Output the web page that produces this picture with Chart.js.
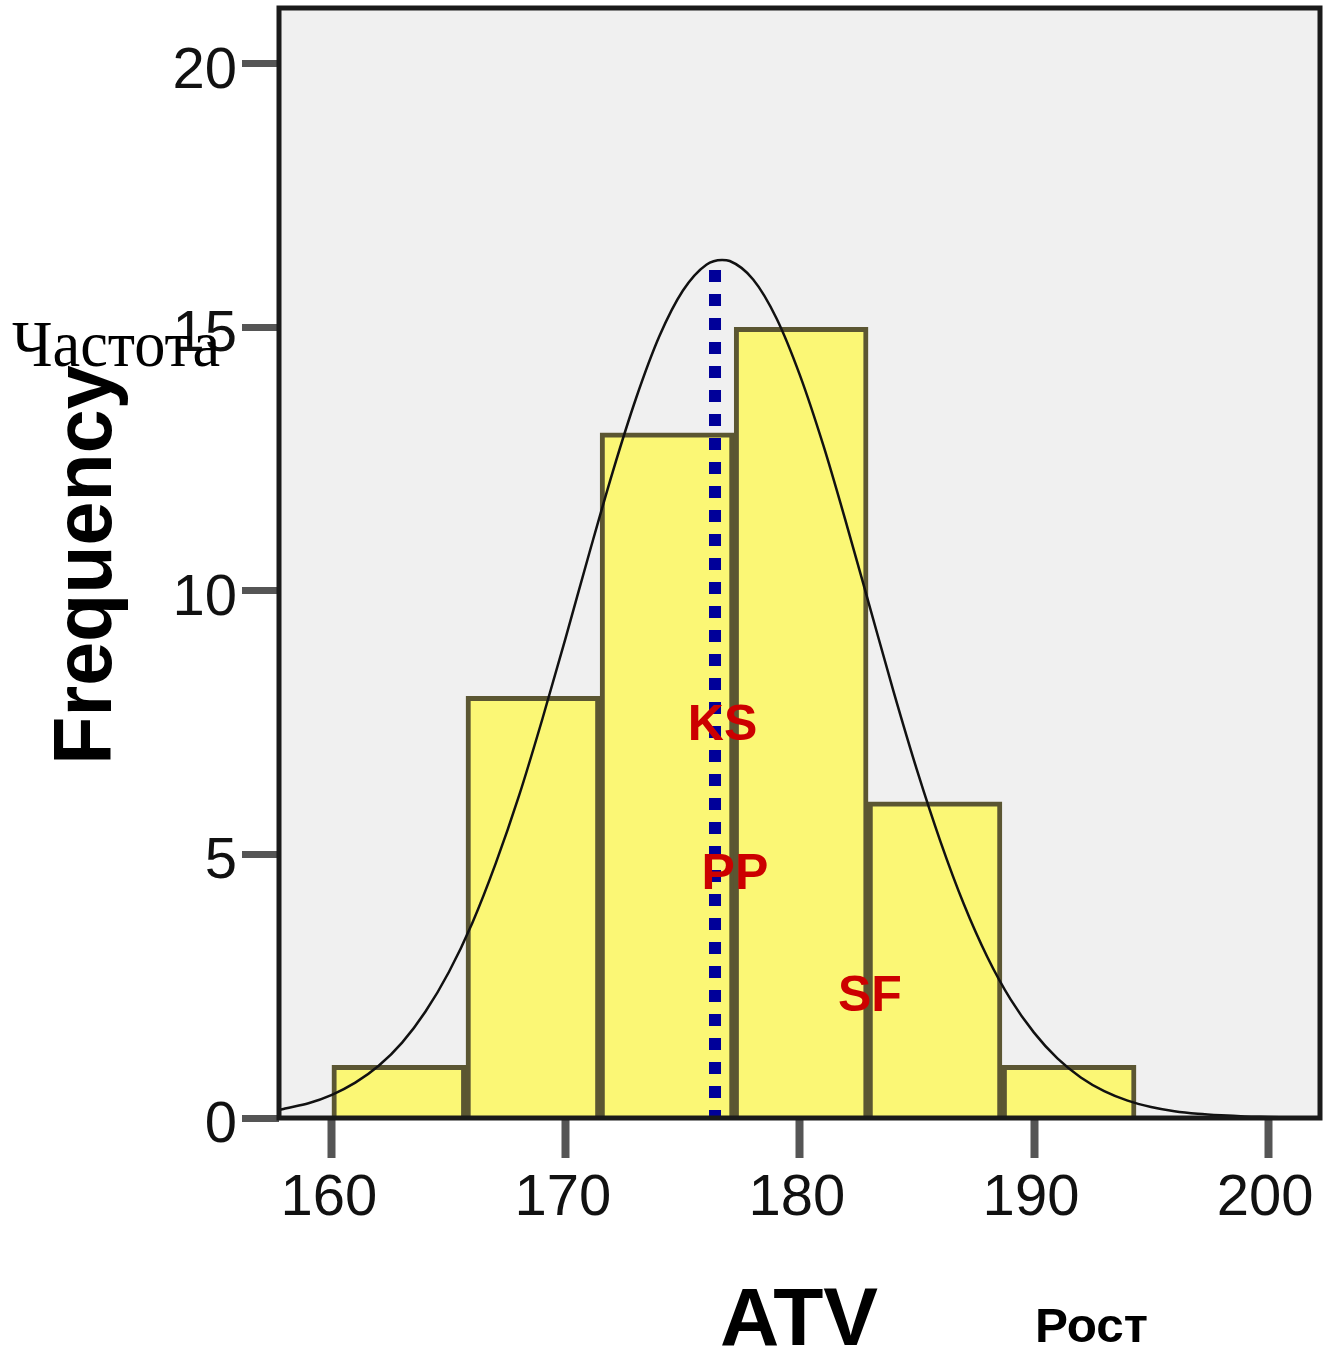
<!DOCTYPE html>
<html>
<head>
<meta charset="utf-8">
<script src="https://cdn.jsdelivr.net/npm/chart.js@4.4.1/dist/chart.umd.min.js"></script>
<style>
  html, body { margin: 0; padding: 0; background: #ffffff; }
  #wrap { width: 1326px; height: 1347px; position: relative; }
</style>
</head>
<body>
<div id="wrap"><canvas id="c" width="1326" height="1347"></canvas></div>
<script>
// ---- data ----
const binCenters = [162.86, 168.59, 174.32, 180.05, 185.77, 191.50];
const frequencies = [1, 8, 13, 15, 6, 1];

const curveX = [157.74, 158, 159, 160, 161, 162, 163, 164, 165, 166, 167, 168, 169, 170,
  171, 172, 173, 174, 175, 176, 176.67, 177, 178, 179, 180, 181, 182, 183, 184, 185, 186,
  187, 188, 189, 190, 191, 192, 193, 194, 195, 196, 197, 198, 199, 200, 201, 202, 202.22];
const curveY = [0.15, 0.18, 0.28, 0.44, 0.67, 0.99, 1.43, 2.02, 2.77, 3.70, 4.83, 6.12, 7.58, 9.13,
  10.72, 12.26, 13.66, 14.84, 15.70, 16.19, 16.28, 16.26, 15.91, 15.17, 14.09, 12.76, 11.25, 9.67, 8.09, 6.60, 5.25,
  4.06, 3.06, 2.25, 1.62, 1.13, 0.77, 0.51, 0.33, 0.21, 0.13, 0.08, 0.05, 0.03, 0.02, 0.01, 0.00, 0.00];

const meanX = [176.37, 176.37];
const meanY = [16.09, 0];

const xTicks = [160, 170, 180, 190, 200];
const yTicks = [0, 5, 10, 15, 20];

const xMin = 157.74, xMax = 202.22;
const yMin = 0, yMax = 21.06;

const annotations = [
  { text: 'KS', x: 176.69, y: 7.17 },
  { text: 'PP', x: 177.22, y: 4.35 },
  { text: 'SF', x: 182.99, y: 2.03 }
];

// ---- helpers ----
function fitText(ctx, text, font, left, baseline, width, color) {
  ctx.save();
  ctx.font = font;
  ctx.textAlign = 'left';
  ctx.textBaseline = 'alphabetic';
  const m = ctx.measureText(text);
  const vis = m.actualBoundingBoxRight + m.actualBoundingBoxLeft;
  const s = width / vis;
  ctx.translate(left, baseline);
  ctx.scale(s, 1);
  ctx.fillStyle = color;
  ctx.fillText(text, m.actualBoundingBoxLeft, 0);
  ctx.restore();
}

const framePlugin = {
  id: 'frame',
  beforeDraw(chart) {
    const { ctx, chartArea: a } = chart;
    ctx.save();
    ctx.fillStyle = '#ffffff';
    ctx.fillRect(0, 0, chart.width, chart.height);
    ctx.fillStyle = '#f0f0f0';
    ctx.fillRect(a.left, a.top, a.right - a.left, a.bottom - a.top);
    ctx.restore();
  },
  afterDatasetsDraw(chart) {
    const { ctx, chartArea: a, scales } = chart;
    ctx.save();
    ctx.strokeStyle = '#1a1a1a';
    ctx.lineWidth = 5;
    ctx.strokeRect(a.left, a.top, a.right - a.left, a.bottom - a.top);
    ctx.restore();
    // KS / PP / SF labels
    annotations.forEach(an => {
      ctx.save();
      ctx.font = 'bold 50px "Liberation Sans", Arial, sans-serif';
      ctx.fillStyle = '#cc0000';
      ctx.textAlign = 'center';
      ctx.textBaseline = 'alphabetic';
      ctx.fillText(an.text, scales.x.getPixelForValue(an.x), scales.y.getPixelForValue(an.y));
      ctx.restore();
    });
  },
  afterDraw(chart) {
    const ctx = chart.ctx;
    // Frequency (rotated)
    ctx.save();
    ctx.translate(111, 760);
    ctx.rotate(-Math.PI / 2);
    fitText(ctx, 'Frequency', 'bold 82px "Liberation Sans", Arial, sans-serif', 0, 0, 395, '#000000');
    ctx.restore();
    // Частота
    fitText(ctx, 'Частота', '66px "Liberation Serif", "Times New Roman", serif', 12, 366, 208, '#000000');
    // ATV
    fitText(ctx, 'ATV', 'bold 81px "Liberation Sans", Arial, sans-serif', 722, 1345, 156, '#000000');
    // Рост
    fitText(ctx, 'Рост', 'bold 49px "Liberation Sans", Arial, sans-serif', 1038, 1342, 109, '#000000');
  }
};

const tickFont = { family: '"Liberation Sans", Arial, sans-serif', size: 58, weight: 'normal' };

new Chart(document.getElementById('c'), {
  type: 'bar',
  data: {
    datasets: [
      {
        type: 'line',
        data: curveX.map((x, i) => ({ x, y: curveY[i] })),
        borderColor: '#111111',
        borderWidth: 2.5,
        pointRadius: 0,
        fill: false,
        cubicInterpolationMode: 'monotone',
        order: 1
      },
      {
        type: 'line',
        data: meanX.map((x, i) => ({ x, y: meanY[i] })),
        borderColor: '#000099',
        borderWidth: 12,
        borderDash: [12, 12],
        borderCapStyle: 'butt',
        pointRadius: 0,
        fill: false,
        order: 2
      },
      {
        type: 'bar',
        data: binCenters.map((x, i) => ({ x, y: frequencies[i] })),
        backgroundColor: '#fbf775',
        borderColor: '#5b5632',
        borderWidth: 5,
        borderSkipped: 'bottom',
        barPercentage: 1.0,
        categoryPercentage: 1.0,
        order: 3
      }
    ]
  },
  options: {
    responsive: false,
    animation: false,
    events: [],
    layout: { padding: { left: 0, right: 6, top: 8, bottom: 0 } },
    plugins: { legend: { display: false }, tooltip: { enabled: false } },
    scales: {
      x: {
        type: 'linear',
        min: xMin, max: xMax,
        offset: false,
        grid: { offset: false, drawOnChartArea: false, drawTicks: true, tickLength: 40, tickColor: '#555555', tickWidth: 8 },
        border: { display: false },
        afterBuildTicks(scale) { scale.ticks = xTicks.map(v => ({ value: v })); },
        afterFit(scale) {
          scale.height = 229;
          scale.paddingLeft = 0; scale.paddingRight = 0; scale.paddingTop = 0; scale.paddingBottom = 0;
        },
        ticks: { font: tickFont, color: '#111111', padding: 6, maxRotation: 0, autoSkip: false, labelOffset: -3 }
      },
      y: {
        type: 'linear',
        min: yMin, max: yMax,
        grid: { drawOnChartArea: false, drawTicks: true, tickLength: 37, tickColor: '#555555', tickWidth: 7 },
        border: { display: false },
        afterBuildTicks(scale) { scale.ticks = yTicks.map(v => ({ value: v })); },
        afterFit(scale) {
          scale.width = 279;
          scale.paddingLeft = 0; scale.paddingRight = 0; scale.paddingTop = 0; scale.paddingBottom = 0;
        },
        ticks: { font: tickFont, color: '#111111', padding: 5, autoSkip: false, labelOffset: 8 }
      }
    }
  },
  plugins: [framePlugin]
});
</script>
</body>
</html>
